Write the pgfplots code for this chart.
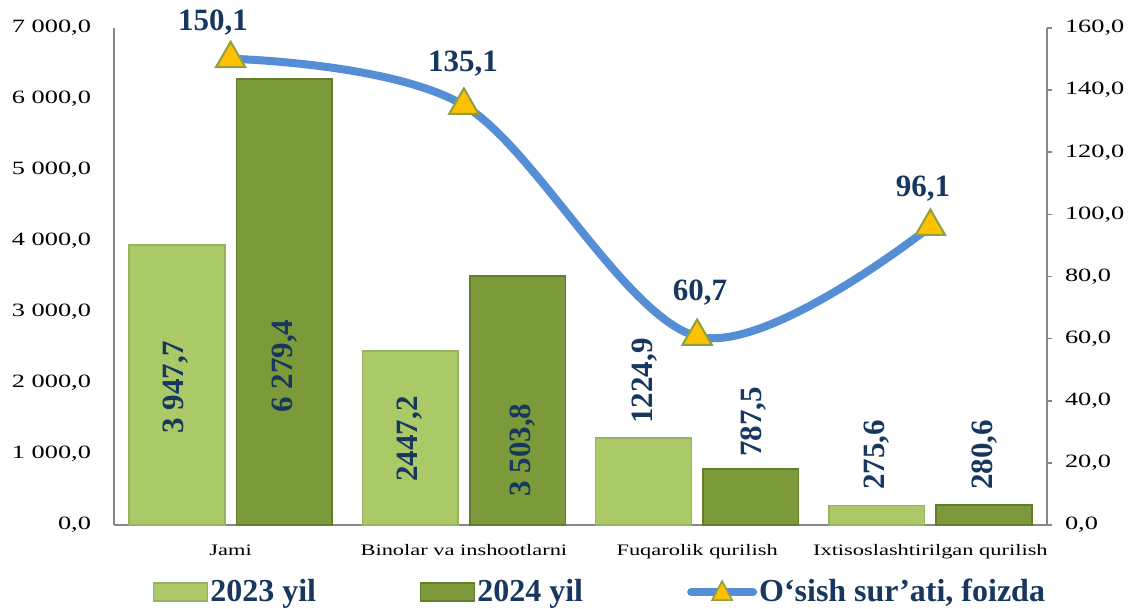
\documentclass[border=0pt]{standalone}
\usepackage{pgfplots}
\pgfplotsset{compat=1.18}
\usepackage{fontspec}
\setmainfont{Liberation Serif}
\newfontfamily\tickfont{Liberation Serif}[FakeStretch=1.4]
\definecolor{cA}{RGB}{172,201,104}
\definecolor{cAd}{RGB}{150,180,95}
\definecolor{cB}{RGB}{124,154,58}
\definecolor{cBd}{RGB}{100,125,45}
\definecolor{lineC}{RGB}{85,142,213}
\definecolor{triY}{RGB}{255,192,0}
\definecolor{triE}{RGB}{140,160,70}
\definecolor{navy}{RGB}{23,55,94}
\definecolor{axg}{RGB}{134,134,134}
\newcommand{\vlab}{\fontsize{15.5}{17}\selectfont\bfseries}
\begin{document}
\begin{tikzpicture}
\begin{axis}[
  scale only axis, width=466.5pt, height=248.5pt,
  xmin=-0.5, xmax=3.5, ymin=0, ymax=7000,
  axis x line*=bottom, axis y line*=left,
  axis line style={axg, line width=0.8pt, -},
  xtick={0,1,2,3},
  xticklabels={Jami, Binolar va inshootlarni, Fuqarolik qurilish, Ixtisoslashtirilgan qurilish},
  xtick style={draw=none},
  xticklabel style={font=\tickfont\fontsize{8}{9}\selectfont, yshift=-2pt},
  ytick={0,1000,...,7000},
  ytick style={draw=none},
  yticklabel style={font=\tickfont\fontsize{9.4}{11}\selectfont, xshift=-8pt},
  /pgf/number format/fixed, /pgf/number format/fixed zerofill,
  /pgf/number format/precision=1, /pgf/number format/use comma,
  /pgf/number format/1000 sep={\ }, /pgf/number format/assume math mode=true,
  ybar, bar width=0.41, clip=false,
]
\addplot[ybar, bar shift=-0.23, fill=cA, draw=cAd, line width=0.8pt] coordinates {(0,3947.7) (1,2447.2) (2,1224.9) (3,275.6)};
\addplot[ybar, bar shift=0.23, fill=cB, draw=cBd, line width=0.8pt] coordinates {(0,6279.4) (1,3503.8) (2,787.5) (3,280.6)};
\begin{scope}[every node/.style={rotate=90, font=\vlab, text=navy, inner sep=0pt}]
\node at (axis cs:-0.234,1944) {3 947,7};
\node at (axis cs:0.233,2239) {6 279,4};
\node at (axis cs:0.769,1211) {2447,2};
\node at (axis cs:1.253,1056) {3 503,8};
\node at (axis cs:1.777,2028) {1224,9};
\node at (axis cs:2.240,1451) {787,5};
\node at (axis cs:2.771,986) {275,6};
\node at (axis cs:3.234,986) {280,6};
\end{scope}
\end{axis}
\begin{axis}[
  scale only axis, width=466.5pt, height=248.5pt,
  xmin=-0.5, xmax=3.5, ymin=0, ymax=160,
  axis y line*=right, axis x line=none,
  axis line style={axg, line width=0.8pt, -},
  ytick={0,20,...,160},
  tick align=outside, major tick length=2.5pt,
  ytick style={axg, line width=0.8pt},
  yticklabel style={font=\tickfont\fontsize{9.4}{11}\selectfont, xshift=3pt},
  /pgf/number format/fixed, /pgf/number format/fixed zerofill,
  /pgf/number format/precision=1, /pgf/number format/use comma,
  /pgf/number format/assume math mode=true,
  clip=false,
  legend columns=3,
  legend style={at={(0.521,-0.135)}, anchor=center, draw=none, fill=none,
    font=\fontsize{16}{18}\selectfont\bfseries, text=navy,
    nodes={inner xsep=1pt},
    /tikz/every odd column/.append style={column sep=0pt},
    /tikz/every even column/.append style={column sep=51pt}},
]
\addlegendimage{legend image code/.code={\draw[fill=cA, draw=cAd, line width=0.6pt] (0pt,-4.5pt) rectangle (27pt,4.5pt);}}
\addlegendentry{2023 yil}
\addlegendimage{legend image code/.code={\draw[fill=cB, draw=cBd, line width=0.6pt] (0pt,-4.5pt) rectangle (27pt,4.5pt);}}
\addlegendentry{2024 yil}
\addplot[lineC, line width=4pt, smooth, tension=0.55, mark=triangle*, mark size=8.5pt,
  mark options={fill=triY, draw=triE, line width=1pt, solid},
  legend image code/.code={\draw[lineC, line width=4pt, line cap=round] (0pt,0pt) -- (31pt,0pt);
    \filldraw[fill=triY, draw=triE, line width=0.8pt] (15.5pt,5.5pt) -- (20.5pt,-4pt) -- (10.5pt,-4pt) -- cycle;}]
  coordinates {(0,150.1) (1,135.1) (2,60.7) (3,96.1)};
\addlegendentry{O‘sish sur’ati, foizda}
\begin{scope}[every node/.style={font=\vlab, text=navy, inner sep=0pt}]
\node at (axis cs:-0.076,161.6) {150,1};
\node at (axis cs:0.996,148.4) {135,1};
\node at (axis cs:2.012,74.7) {60,7};
\node at (axis cs:2.968,108.2) {96,1};
\end{scope}
\end{axis}
\pgfresetboundingbox
\path (-57pt,-42pt) rectangle (509.5pt,262.5pt);
\end{tikzpicture}
\end{document}
